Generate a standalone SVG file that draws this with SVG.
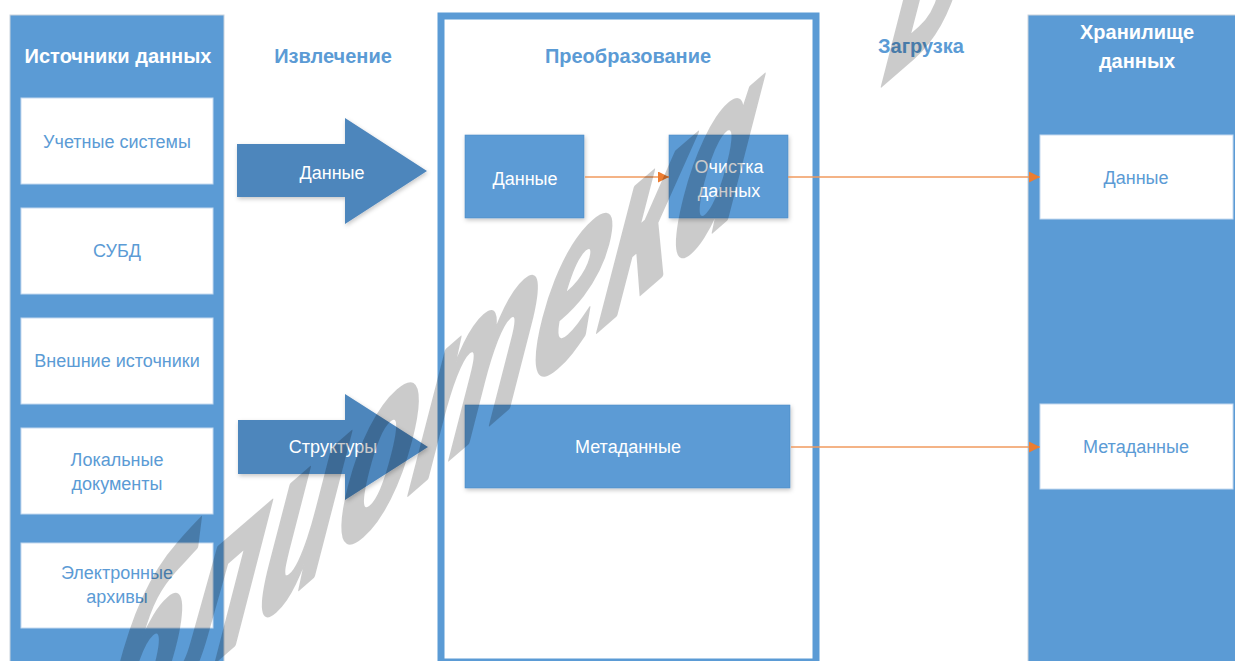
<svg xmlns="http://www.w3.org/2000/svg" width="1235" height="661" viewBox="0 0 1235 661">
<defs>
<style>
.col{fill:#5b9bd5;stroke:#c9d3de;stroke-width:1}
.wbox{fill:#ffffff;stroke:#c5daf0;stroke-width:1}
.bbox{fill:#5b9bd5;stroke:#4f8cc6;stroke-width:0.6}
.arrow{fill:#4e86bc}
.t{font-family:"Liberation Sans",Arial,sans-serif;font-size:18px;text-anchor:middle}
.tb{fill:#5b9bd5}
.tw{fill:#ffffff}
.h{font-family:"Liberation Sans",Arial,sans-serif;font-size:20px;font-weight:bold;text-anchor:middle}
.conn{stroke:#f19a5e;stroke-width:1.6;fill:none}
.wm{font-family:"Noto Sans","DejaVu Sans",sans-serif;font-style:italic;font-weight:bold;font-size:100px;fill:#000000;stroke:#000000;stroke-width:1.5;stroke-linejoin:round}
</style>
<filter id="sh" x="-10%" y="-10%" width="125%" height="130%">
<feDropShadow dx="1" dy="2" stdDeviation="2" flood-color="#000" flood-opacity="0.22"/>
</filter>
<marker id="ah" viewBox="0 0 10 10" refX="10" refY="5" markerWidth="11" markerHeight="11" markerUnits="userSpaceOnUse" orient="auto">
<path d="M0,0 L10,5 L0,10 Z" fill="#ed7d31"/>
</marker>
</defs>
<rect width="1235" height="661" fill="#ffffff"/>

<g id="sources">
<rect class="col" x="10" y="15" width="214" height="660"/>
<text class="h tw" x="118" y="63">Источники данных</text>
</g>
<g id="src-accounting">
<rect class="wbox" x="21" y="98" width="192" height="86"/>
<text class="t tb" x="117" y="148">Учетные системы</text>
</g>
<g id="src-dbms">
<rect class="wbox" x="21" y="208" width="192" height="86"/>
<text class="t tb" x="117" y="257">СУБД</text>
</g>
<g id="src-external">
<rect class="wbox" x="21" y="318" width="192" height="86"/>
<text class="t tb" x="117" y="367">Внешние источники</text>
</g>
<g id="src-local">
<rect class="wbox" x="21" y="428" width="192" height="86"/>
<text class="t tb" x="117" y="466">Локальные</text>
<text class="t tb" x="117" y="490">документы</text>
</g>
<g id="src-archives">
<rect class="wbox" x="21" y="543" width="192" height="85"/>
<text class="t tb" x="117" y="579">Электронные</text>
<text class="t tb" x="117" y="603">архивы</text>
</g>

<g id="extract-label">
<text class="h tb" x="333" y="63">Извлечение</text>
</g>
<g id="arrow-data">
<polygon class="arrow" filter="url(#sh)" points="237,144 345,144 345,118 427,171 345,224 345,197 237,197"/>
<text class="t tw" x="332" y="179">Данные</text>
</g>
<g id="arrow-structures">
<polygon class="arrow" filter="url(#sh)" points="238,420 345,420 345,394 428,447 345,500 345,474 238,474"/>
<text class="t tw" x="333" y="453">Структуры</text>
</g>

<g id="transform">
<rect x="441" y="16" width="375" height="646" fill="none" stroke="#5b9bd5" stroke-width="7"/>
<text class="h tb" x="628" y="63">Преобразование</text>
</g>
<g id="tr-data">
<rect class="bbox" filter="url(#sh)" x="465" y="135" width="119" height="83"/>
<text class="t tw" x="525" y="185">Данные</text>
</g>
<g id="tr-clean">
<rect class="bbox" filter="url(#sh)" x="669" y="135" width="119" height="83"/>
<text class="t tw" x="729" y="173">Очистка</text>
<text class="t tw" x="729" y="197">данных</text>
</g>
<g id="tr-meta">
<rect class="bbox" filter="url(#sh)" x="465" y="405" width="325" height="83"/>
<text class="t tw" x="628" y="453">Метаданные</text>
</g>

<g id="load-label">
<text class="h tb" x="921" y="53">Загрузка</text>
</g>

<g id="warehouse">
<rect class="col" x="1028" y="15" width="215" height="660"/>
<text class="h tw" x="1137" y="39">Хранилище</text>
<text class="h tw" x="1137" y="68">данных</text>
</g>
<g id="wh-data">
<rect class="wbox" x="1040" y="135" width="193" height="84"/>
<text class="t tb" x="1136" y="184">Данные</text>
</g>
<g id="wh-meta">
<rect class="wbox" x="1040" y="404" width="193" height="85"/>
<text class="t tb" x="1136" y="453">Метаданные</text>
</g>

<g id="connectors">
<line class="conn" x1="585" y1="177" x2="669" y2="177" marker-end="url(#ah)"/>
<line class="conn" x1="788" y1="177" x2="1040" y2="177" marker-end="url(#ah)"/>
<line class="conn" x1="791" y1="447" x2="1040" y2="447" marker-end="url(#ah)"/>
</g>

<g id="watermark" opacity="0.2">
<text class="wm" transform="matrix(1.33,-1.15,-0.4,2.4,96,765)" x="0" y="0">блиотека <tspan dx="75">Б</tspan></text>
</g>
</svg>
